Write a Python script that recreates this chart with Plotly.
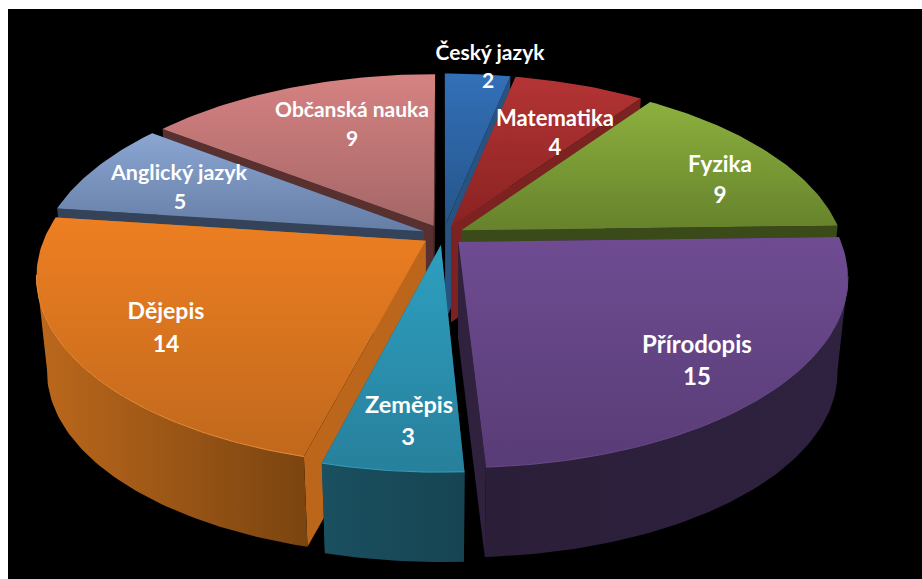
import math
import plotly.graph_objects as go

# --- data ---
subjects = ["Český jazyk", "Matematika", "Fyzika", "Přírodopis", "Zeměpis", "Dějepis", "Anglický jazyk", "Občanská nauka"]
counts = [2, 4, 9, 15, 3, 14, 5, 9]

# --- styles (top of face, bottom of face, radial wall, outer wall left, outer wall right, rim highlight) ---
top_hi = ["#3270B8", "#B43434", "#8CB03E", "#6F4C92", "#2E9FC0", "#EE7F22", "#8AA6D2", "#D68282"]
top_lo = ["#25558A", "#8A2222", "#66822C", "#583C76", "#27809C", "#C0681C", "#667EA6", "#A46666"]
wall = ["#28527F", "#7C2220", "#3A4A18", "#30223F", "#1A4C5C", "#BC661C", "#35435A", "#57302F"]
arc_l = ["#1E3E62", "#6A1C1C", "#3A4A18", "#2A1E38", "#1A5060", "#BC681C", "#35435A", "#57302F"]
arc_r = ["#1E3E62", "#6A1C1C", "#3A4A18", "#2E2240", "#164452", "#7A4410", "#35435A", "#57302F"]
rim_hi = ["#3270B8", "#B43434", "#8CB03E", "#6A4A8A", "#33A0BC", "#E88C38", "#8AA6D2", "#D68282"]
draw_order = [0, 1, 7, 2, 6, 5, 3, 4]

# --- label placement (page pixels) ---
name_x = [490, 555, 720, 697, 409, 166, 179, 352]
name_y = [55, 120, 166, 347, 407, 313, 175, 112]
count_x = [488, 555, 720, 697, 408, 166, 180, 352]
count_y = [83, 149, 197, 379, 439, 346, 204, 141]
name_size = [21, 22, 22.5, 24, 23.5, 23, 21.5, 21]

# --- projection of the exploded 3D pie ---
CX, CY = 443, 235
RX, KY = 380, 182.2
PERSP = 0.18
PULL = 0.055
DEPTH = 96
BASE_SCALE = 0.974
FRONT_START = math.acos(-PERSP)
FRONT_END = 2 * math.pi - FRONT_START


def project(x, y, base=False):
    s = 1 / (1 - PERSP * y)
    if base:
        return CX + BASE_SCALE * RX * x * s, CY + DEPTH + BASE_SCALE * KY * y * s
    return CX + RX * x * s, CY + KY * y * s


def rim(a0, a1, mid, base=False):
    n = max(4, int(abs(a1 - a0) * 60))
    off = (PULL * math.sin(mid), -PULL * math.cos(mid))
    pts = []
    for i in range(n + 1):
        a = a0 + (a1 - a0) * i / n
        pts.append(project(off[0] + math.sin(a), off[1] - math.cos(a), base))
    return pts


def apex(mid, base=False):
    return project(PULL * math.sin(mid), -PULL * math.cos(mid), base)


def poly(fig, pts, grad=None, color=None, gtype="vertical"):
    xs = [p[0] for p in pts] + [pts[0][0]]
    ys = [p[1] for p in pts] + [pts[0][1]]
    kw = {}
    if grad:
        kw["fillgradient"] = dict(type=gtype, colorscale=[[0, grad[0]], [1, grad[1]]])
    else:
        kw["fillcolor"] = color
    fig.add_trace(go.Scatter(x=xs, y=ys, mode="lines", fill="toself", line=dict(width=0),
                             hoverinfo="skip", showlegend=False, **kw))


fig = go.Figure()
total = sum(counts)
angles = [0]
for c in counts:
    angles.append(angles[-1] + c / total * 2 * math.pi)

for i in draw_order:
    a0, a1 = angles[i], angles[i + 1]
    mid = (a0 + a1) / 2
    top = rim(a0, a1, mid)
    bot = rim(a0, a1, mid, base=True)
    ap_t, ap_b = apex(mid), apex(mid, True)
    # radial walls
    poly(fig, [ap_t, top[0], bot[0], ap_b], color=wall[i])
    poly(fig, [ap_t, top[-1], bot[-1], ap_b], color=wall[i])
    # outer wall: only the part of the rim that faces the viewer
    f0, f1 = max(a0, FRONT_START), min(a1, FRONT_END)
    if f1 > f0:
        poly(fig, rim(f0, f1, mid) + rim(f0, f1, mid, base=True)[::-1],
             grad=(arc_l[i], arc_r[i]), gtype="horizontal")
    # top face (gradient runs from low y value to high y value, axis is reversed)
    poly(fig, [ap_t] + top, grad=(top_lo[i], top_hi[i]))
    # thin highlight along the front rim
    if f1 > f0:
        hl = rim(f0, f1, mid)
        fig.add_trace(go.Scatter(x=[p[0] for p in hl], y=[p[1] for p in hl], mode="lines",
                                 line=dict(color=rim_hi[i], width=1),
                                 hoverinfo="skip", showlegend=False))

for size, nx, ny, cx_, cy_, s, c in zip(name_size, name_x, name_y, count_x, count_y, subjects, counts):
    fig.add_trace(go.Scatter(x=[nx, cx_], y=[ny, cy_], mode="text", text=[f"<b>{s}</b>", f"<b>{c}</b>"],
                             textposition="middle center",
                             textfont=dict(family="Lato", size=size, color="white"),
                             hoverinfo="skip", showlegend=False))

fig.update_layout(
    width=922, height=579,
    margin=dict(l=8, r=0, t=9, b=0),
    paper_bgcolor="white", plot_bgcolor="black",
    xaxis=dict(range=[8, 922], visible=False, fixedrange=True),
    yaxis=dict(range=[579, 9], visible=False, fixedrange=True),
)
fig.write_html("out.html", config=dict(displayModeBar=False), post_script="document.body.style.margin='0';")
